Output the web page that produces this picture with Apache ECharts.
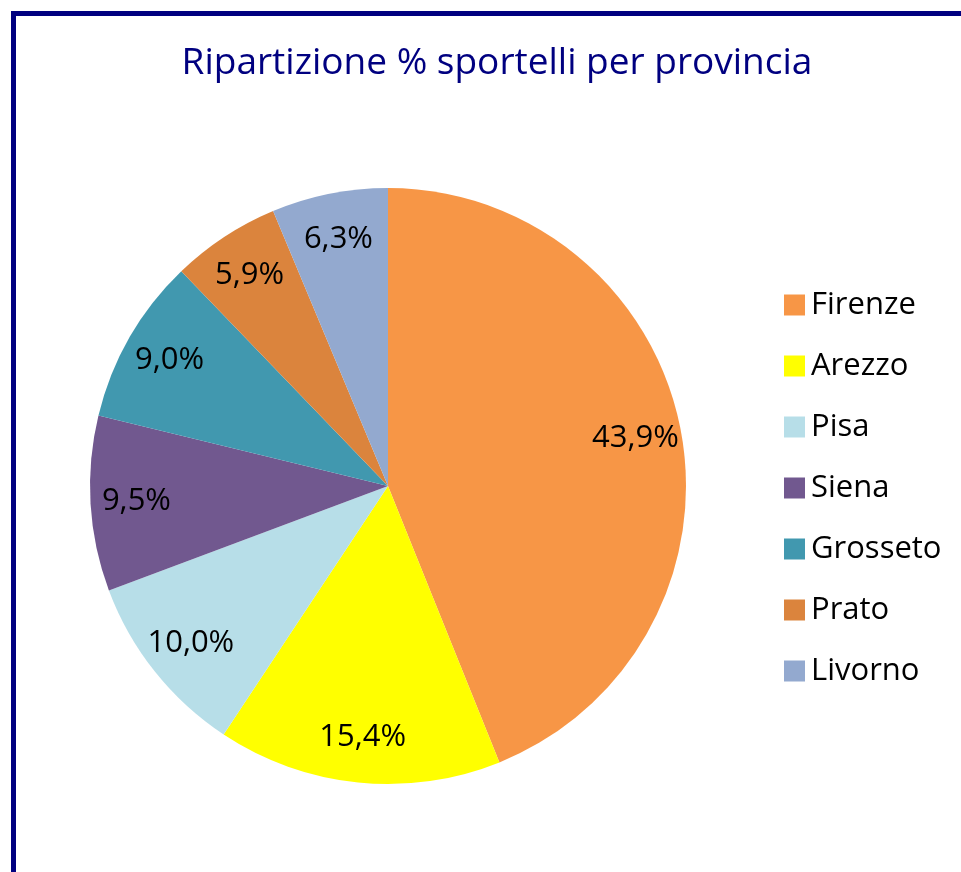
<!DOCTYPE html>
<html>
<head>
<meta charset="utf-8">
<script src="https://cdn.jsdelivr.net/npm/echarts@6/dist/echarts.min.js"></script>
<style>
  html, body { margin: 0; padding: 0; background: #fff; }
  #chart { width: 961px; height: 872px; }
</style>
</head>
<body>
<div id="chart"></div>
<script>
const province = ['Firenze', 'Arezzo', 'Pisa', 'Siena', 'Grosseto', 'Prato', 'Livorno'];
const quote = [43.9, 15.4, 10.0, 9.5, 9.0, 5.9, 6.3];
const colori = ['#F79646', '#FFFF00', '#B7DEE8', '#71588F', '#4198AF', '#DB843D', '#93A9CF'];

const dati = province.map((p, i) => ({ name: p, value: quote[i], itemStyle: { color: colori[i] } }));
const fmt = (p) => p.value.toFixed(1).replace('.', ',') + '%';

const chart = echarts.init(document.getElementById('chart'));
const option = {
  animation: false,
  title: {
    text: 'Ripartizione % sportelli per provincia',
    left: 492,
    top: 40,
    textAlign: 'center',
    textStyle: { color: '#000080', fontFamily: 'Open Sans', fontWeight: 'normal', fontSize: 37 }
  },
  legend: {
    orient: 'vertical',
    left: 779,
    top: 284,
    icon: 'rect',
    itemWidth: 21,
    itemHeight: 21,
    itemGap: 29,
    data: province,
    textStyle: { color: '#000', fontFamily: 'Open Sans', fontSize: 31, lineHeight: 32, padding: [0, 0, 0, 1] }
  },
  graphic: [{
    type: 'polyline',
    shape: { points: [[13.5, 872], [13.5, 13.5], [961, 13.5]] },
    style: { stroke: '#000080', lineWidth: 5, fill: null }
  }],
  series: [
    {
      type: 'pie',
      center: [388, 486],
      radius: [0, 298],
      startAngle: 90,
      clockwise: true,
      label: { show: false },
      labelLine: { show: false },
      data: dati
    },
    {
      type: 'pie',
      center: [388, 486],
      radius: [200, 298],
      startAngle: 90,
      clockwise: true,
      silent: true,
      legendHoverLink: false,
      itemStyle: { color: 'rgba(0,0,0,0)' },
      label: { show: true, position: 'inside', formatter: fmt, color: '#000', fontFamily: 'Open Sans', fontSize: 31 },
      labelLine: { show: false },
      data: province.map((p, i) => ({ name: p, value: quote[i], itemStyle: { color: 'rgba(0,0,0,0)' } }))
    }
  ]
};
chart.setOption(option);
</script>
</body>
</html>
